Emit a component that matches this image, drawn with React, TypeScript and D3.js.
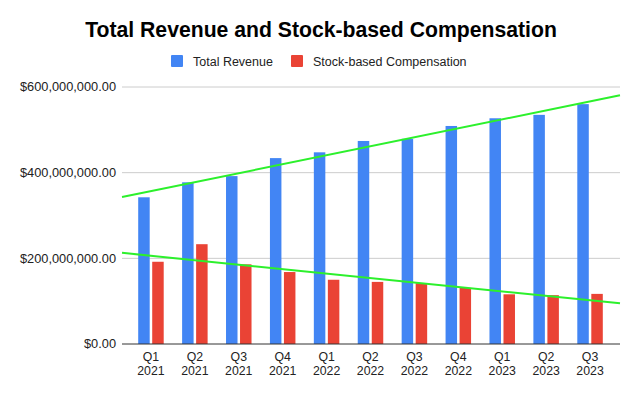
import React, { useRef, useEffect } from "react";
import * as d3 from "d3";

// quarter labels, two lines each
const categories = [
    "Q1 2021", "Q2 2021", "Q3 2021", "Q4 2021",
    "Q1 2022", "Q2 2022", "Q3 2022", "Q4 2022",
    "Q1 2023", "Q2 2023", "Q3 2023",
];

const seriesNames = ["Total Revenue", "Stock-based Compensation"];

const totalRevenue = [
    342.5e6, 377.5e6, 392e6, 434e6, 447.5e6, 474e6, 479e6, 509e6, 527e6, 535e6, 560e6,
];

const stockComp = [
    192e6, 233e6, 186e6, 168e6, 150e6, 145e6, 142e6, 131e6, 116e6, 114e6, 117e6,
];

const yTicks = [0, 200e6, 400e6, 600e6];

const colors = ["#4285F4", "#EA4335"];
const trendColor = "#2CF02C";

// least squares fit against the category index
function fit(values: number[]) {
    const xs = values.map((_, i) => i);
    const mx = d3.mean(xs) as number;
    const my = d3.mean(values) as number;
    let sxy = 0;
    let sxx = 0;
    xs.forEach((x, i) => {
        sxy += (x - mx) * (values[i] - my);
        sxx += (x - mx) * (x - mx);
    });
    const slope = sxy / sxx;
    return (x: number) => my + slope * (x - mx);
}

export default function App() {
    const svgRef = useRef<SVGSVGElement | null>(null);

    useEffect(() => {
        if (!svgRef.current) return;

        const width = 640;
        const height = 396;
        const plot = { left: 122, right: 620, top: 87, bottom: 344 };
        const font = "Arial, 'Liberation Sans', sans-serif";
        const textColor = "#222";

        const svg = d3.select(svgRef.current);
        svg.selectAll("*").remove();

        svg.append("rect")
            .attr("width", width)
            .attr("height", height)
            .attr("fill", "#fff");

        const x = d3.scaleBand<string>()
            .domain(categories)
            .range([129, 612])
            .padding(0);

        const sub = d3.scaleBand<string>()
            .domain(seriesNames)
            .range([-12.75, 12.75])
            .paddingInner(0.18);

        const y = d3.scaleLinear()
            .domain([0, 600e6])
            .range([plot.bottom, plot.top]);

        // gridlines
        svg.append("g")
            .selectAll("line")
            .data(yTicks.filter((t) => t !== 0))
            .join("line")
            .attr("x1", plot.left)
            .attr("x2", plot.right)
            .attr("y1", (d) => y(d))
            .attr("y2", (d) => y(d))
            .attr("stroke", "#cccccc")
            .attr("stroke-width", 1);

        // y labels
        svg.append("g")
            .selectAll("text")
            .data(yTicks)
            .join("text")
            .attr("x", 116)
            .attr("y", (d) => y(d))
            .attr("dy", "0.35em")
            .attr("text-anchor", "end")
            .attr("font-family", font)
            .attr("font-size", 12.8)
            .attr("fill", textColor)
            .text((d) => d3.format("$,.2f")(d));

        // bars
        const seriesData = [totalRevenue, stockComp];
        seriesData.forEach((values, s) => {
            svg.append("g")
                .selectAll("rect")
                .data(values)
                .join("rect")
                .attr("x", (_, i) => (x(categories[i]) as number) + x.bandwidth() / 2 + (sub(seriesNames[s]) as number))
                .attr("width", sub.bandwidth())
                .attr("y", (d) => y(d))
                .attr("height", (d) => y(0) - y(d))
                .attr("fill", colors[s]);
        });

        // baseline
        svg.append("line")
            .attr("x1", plot.left)
            .attr("x2", plot.right)
            .attr("y1", y(0))
            .attr("y2", y(0))
            .attr("stroke", "#333")
            .attr("stroke-width", 1);

        // trend lines
        const xi = d3.scaleLinear()
            .domain([0, categories.length - 1])
            .range([
                (x(categories[0]) as number) + x.bandwidth() / 2,
                (x(categories[categories.length - 1]) as number) + x.bandwidth() / 2,
            ]);
        const i0 = xi.invert(plot.left);
        const i1 = xi.invert(plot.right);
        seriesData.forEach((values) => {
            const f = fit(values);
            svg.append("line")
                .attr("x1", xi(i0))
                .attr("x2", xi(i1))
                .attr("y1", y(f(i0)))
                .attr("y2", y(f(i1)))
                .attr("stroke", trendColor)
                .attr("stroke-width", 2);
        });

        // x labels, two separate lines
        const cx = (d: string) => (x(d) as number) + x.bandwidth() / 2;
        const xg = svg.append("g")
            .attr("text-anchor", "middle")
            .attr("font-family", font)
            .attr("font-size", 12.3)
            .attr("fill", textColor);
        xg.selectAll("text.q")
            .data(categories)
            .join("text")
            .attr("class", "q")
            .attr("x", cx)
            .attr("y", 361)
            .text((d) => d.split(" ")[0]);
        xg.selectAll("text.yr")
            .data(categories)
            .join("text")
            .attr("class", "yr")
            .attr("x", cx)
            .attr("y", 375)
            .text((d) => d.split(" ")[1]);

        // title
        svg.append("text")
            .attr("x", width / 2 + 1)
            .attr("y", 37)
            .attr("text-anchor", "middle")
            .attr("font-family", font)
            .attr("font-size", 21.2)
            .attr("font-weight", "bold")
            .attr("fill", "#000")
            .text("Total Revenue and Stock-based Compensation");

        // legend
        const legendX = [171, 291];
        seriesNames.forEach((name, s) => {
            svg.append("rect")
                .attr("x", legendX[s])
                .attr("y", 55)
                .attr("width", 12)
                .attr("height", 12)
                .attr("rx", 1)
                .attr("fill", colors[s]);
            svg.append("text")
                .attr("x", legendX[s] + 22)
                .attr("y", 65.5)
                .attr("font-family", font)
                .attr("font-size", 12.5)
                .attr("fill", textColor)
                .text(name);
        });
    }, []);

    return (
        <svg
            ref={svgRef}
            width={640}
            height={396}
            style={{ position: "absolute", left: 0, top: 0 }}
        ></svg>
    );
}
